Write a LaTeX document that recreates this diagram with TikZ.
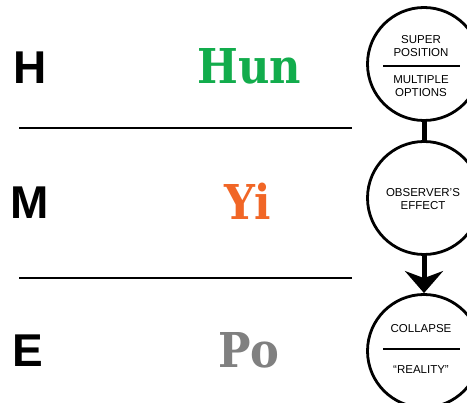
\documentclass[tikz,border=0pt]{standalone}
\usepackage{fontspec}
\setmainfont{Liberation Sans}
\newfontfamily\slabfont{DejaVu Serif}
\usetikzlibrary{arrows.meta,calc}
\definecolor{hungreen}{RGB}{18,172,76}
\definecolor{yiorange}{RGB}{241,102,38}
\definecolor{pogray}{RGB}{128,128,128}

\begin{document}
\begin{tikzpicture}[x=1pt, y=-1pt,
  phase/.style={circle, draw, line width=2.8pt, minimum size=113pt, inner sep=0pt},
  level/.style={font=\fontsize{46}{46}\selectfont\bfseries},
  word/.style={font=\fontsize{48}{48}\slabfont\bfseries, xscale=0.9},
  small/.style={font=\fontsize{11.5}{13}\selectfont, align=center, inner sep=0pt},
  divider/.style={line width=1.4pt},
  stalk/.style={line width=5pt}]
\clip (0,0) rectangle (467,403);
% left column
\node[level] (h) at (30,68) {H};
\node[level] (m) at (30,203) {M};
\node[level] (e) at (28,351) {E};
\node[word, text=hungreen] (hun) at (249,66) {Hun};
\node[word, text=yiorange] (yi) at (248,201) {Yi};
\node[word, text=pogray] (po) at (249,350) {Po};
% separators
\draw[line width=2.8pt] (19,128) -- (352,128);
\draw[line width=2.8pt] (19,278) -- (352,278);
% right column
\node[phase] (superpos) at (424,64) {};
\node[phase] (observer) at (424,198) {};
\node[phase] (collapse) at (424,351) {};
\node[small] (superup) at ($(superpos.center)+(-3,-18)$) {SUPER\\POSITION};
\node[small] (superlow) at ($(superpos.center)+(-3,22)$) {MULTIPLE\\OPTIONS};
\draw[divider] ($(superpos.center)+(-41,2)$) -- ($(superpos.center)+(36,2)$);
\node[small] (obstext) at ($(observer.center)+(-1,1)$) {OBSERVER'S\\EFFECT};
\node[small] (colup) at ($(collapse.center)+(-3,-22)$) {COLLAPSE};
\node[small] (collow) at ($(collapse.center)+(-3,19)$) {``REALITY''};
\draw[divider] ($(collapse.center)+(-41,-2)$) -- ($(collapse.center)+(36,-2)$);
% connectors
\draw[stalk] (superpos) -- (observer);
\draw[stalk, -{Stealth[length=22pt, width=38pt, inset=7pt]}] (observer) -- (collapse);
\end{tikzpicture}
\end{document}
